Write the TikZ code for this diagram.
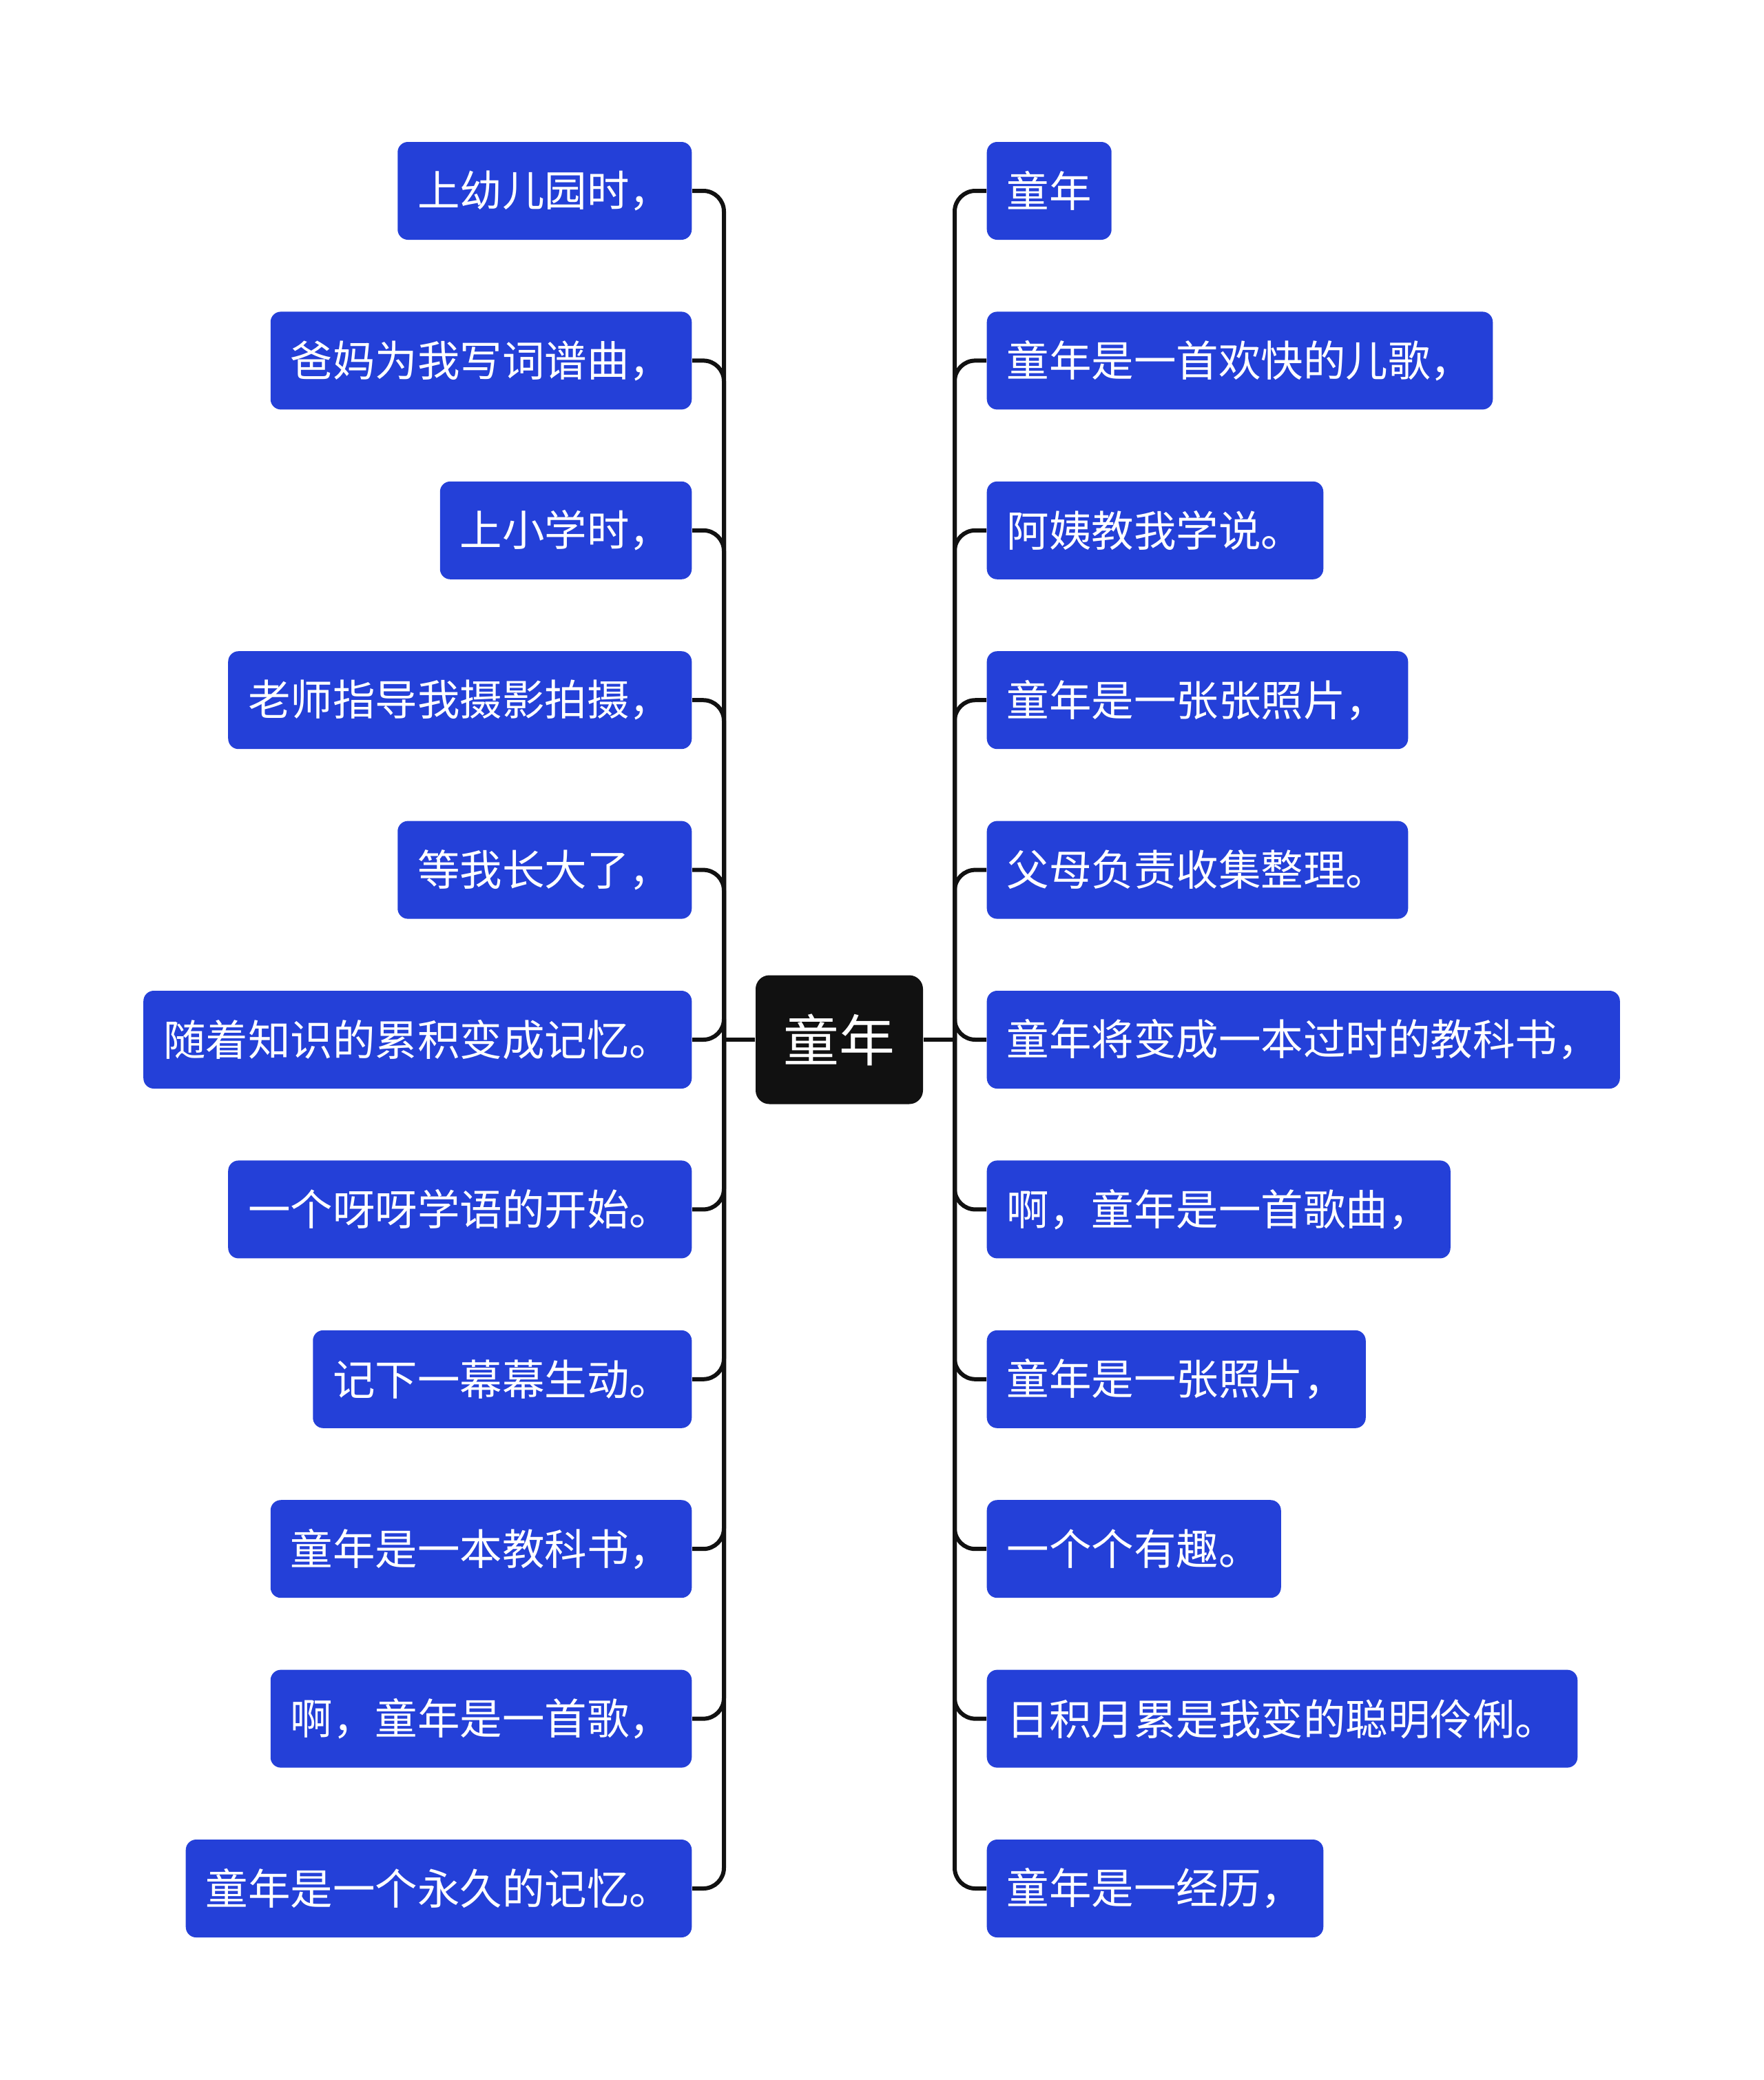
\documentclass[tikz,border=0pt]{standalone}
\usepackage{fontspec}
\setmainfont{Noto Sans CJK SC}
\usepackage{tikz}
\usetikzlibrary{calc}

\definecolor{leafblue}{HTML}{2440D8}
\definecolor{rootblack}{HTML}{111111}

\tikzset{
  leaf/.style={fill=leafblue, text=white, rounded corners=0.15cm, inner xsep=0.29cm,
    inner ysep=0pt, minimum height=1.42cm, font=\fontsize{17.5pt}{21pt}\selectfont},
  root/.style={fill=rootblack, text=white, rounded corners=0.2cm, minimum width=2.43cm,
    minimum height=1.87cm, font=\fontsize{23pt}{28pt}\selectfont},
  link/.style={draw=rootblack, line width=0.06cm, rounded corners=0.3cm},
}

\begin{document}
\begin{tikzpicture}
  \useasboundingbox (0,0) rectangle (25.6,-30.19);
  % centre
  \node[root] (root) at (12.185,-15.09) {童年};
  \coordinate (ls) at (10.51,-15.09);
  \coordinate (rs) at (13.86,-15.09);
  \draw[link] (root.west) -- (ls);
  \draw[link] (root.east) -- (rs);
  % left branch
  \foreach \t [count=\i] in {上幼儿园时，, 爸妈为我写词谱曲，, 上小学时，, 老师指导我摄影拍摄，,
      等我长大了，, 随着知识的累积变成记忆。, 一个呀呀学语的开始。, 记下一幕幕生动。,
      童年是一本教科书，, 啊，童年是一首歌，, 童年是一个永久的记忆。}{
    \node[leaf, anchor=east] (l\i) at (10.05,{-2.77-2.464*(\i-1)}) {\t};
    \draw[link] (ls) |- (l\i.east);
  }
  % right branch
  \foreach \t [count=\i] in {童年, 童年是一首欢快的儿歌，, 阿姨教我学说。, 童年是一张张照片，,
      父母负责收集整理。, 童年将变成一本过时的教科书，, 啊，童年是一首歌曲，, 童年是一张照片，,
      一个个有趣。, 日积月累是我变的聪明伶俐。, 童年是一经历，}{
    \node[leaf, anchor=west] (r\i) at (14.32,{-2.77-2.464*(\i-1)}) {\t};
    \draw[link] (rs) |- (r\i.west);
  }
\end{tikzpicture}
\end{document}
